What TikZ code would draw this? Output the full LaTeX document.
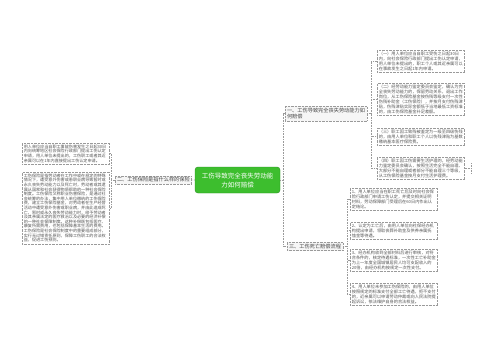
\documentclass[tikz,border=0pt]{standalone}
\usepackage{fontspec}
\setmainfont{Noto Sans CJK SC}
\definecolor{mgreen}{HTML}{3DBE2E}
\definecolor{dgreen}{HTML}{2A8F22}
\definecolor{lgray}{HTML}{9A9A9A}
\definecolor{tgray}{HTML}{555555}
\tikzset{
  leaf/.style={draw=lgray, densely dotted, fill=white, inner sep=1.6pt, anchor=north west,
    align=left, text width=84pt, font=\fontsize{4.2}{5}\selectfont, text=tgray},
  leafs/.style={leaf, font=\fontsize{4.1}{4.6}\selectfont},
  branch/.style={draw=lgray, densely dotted, fill=gray!7, inner sep=1.8pt, anchor=north west,
    align=left, font=\fontsize{5.2}{6.4}\selectfont, text=tgray!80!black},
  root/.style={draw=dgreen, fill=mgreen, rounded corners=3pt, text=white, align=center,
    minimum width=85pt, minimum height=26pt, inner sep=2pt, font=\fontsize{6.5}{9}\selectfont},
  conn/.style={draw=lgray, densely dotted, line width=0.6pt}
}
\begin{document}
\begin{tikzpicture}[x=1pt,y=-1pt]
\useasboundingbox (0,0) rectangle (500,360);
\fill[white] (0,0) rectangle (500,360);
% root
\node[root] (c) at (237.5,180) {工伤导致完全丧失劳动能\\力如何赔偿};
% branches
\node[branch, text width=78pt] (b1) at (285,106) {一、工伤导致完全丧失劳动能力如\\何赔偿};
\node[branch] (b3) at (287,242) {三、工伤死亡赔偿流程};
\node[branch] (b2) at (115,175.5) {二、工伤保险是指什么样的保险};
% right leaves, branch 1
\node[leaf] (l1) at (377,50) {（一）用人单位应当自职工受伤之日起30日\\内，向社会保险行政部门提出工伤认定申请，\\用人单位未提出的，职工个人或其近亲属可以\\在事故发生之日起1年内申请。};
\node[leaf] (l2) at (377,83) {（二）经劳动能力鉴定委员会鉴定，确认为完\\全丧失劳动能力的，保留劳动关系，退出工作\\岗位，从工伤保险基金按伤残等级支付一次性\\伤残补助金（工伤保险），并按月支付伤残津\\贴，伤残津贴实际金额低于当地最低工资标准\\的，由工伤保险基金补足差额。};
\node[leaf] (l3) at (377,128) {（三）职工因工致残被鉴定为一级至四级伤残\\的，由用人单位和职工个人以伤残津贴为基数\\缴纳基本医疗保险费。};
\node[leaf] (l4) at (377,157) {（四）职工因工伤需要生活护理的，经劳动能\\力鉴定委员会确认，按照生活完全不能自理、\\大部分不能自理或者部分不能自理三个等级，\\从工伤保险基金按月支付生活护理费。};
% right leaves, branch 3
\node[leaf] (m1) at (350,188) {1、用人单位应当在职工死亡后及时向社会保\\险行政部门申请工伤认定，并提交相关证明\\材料，劳动保障部门受理后在60日内作出认\\定结论。};
\node[leaf] (m2) at (350,222) {2、认定为工亡后，由用人单位向社保经办机\\构提出申请，领取丧葬补助金及供养亲属抚\\恤金等待遇。};
\node[leaf] (m3) at (350,249) {3、经办机构收到全部材料后进行审核，对符\\合条件的，核定待遇标准，一次性工亡补助金\\为上一年度全国城镇居民人均可支配收入的\\20倍，由经办机构按规定一次性支付。};
\node[leaf] (m4) at (350,283) {4、用人单位未参加工伤保险的，由用人单位\\按照规定的标准支付全部工亡待遇，拒不支付\\的，近亲属可以申请劳动仲裁或向人民法院提\\起诉讼，依法维护自身的合法权益。};
% left leaves
\node[leafs] (p1) at (22,143) {用人单位应当自职工事故伤害发生之日起30日\\内向统筹地区社会保险行政部门提出工伤认定\\申请，用人单位未提出的，工伤职工或者其近\\亲属可以在1年内直接提出工伤认定申请。};
\node[leafs] (p2) at (22,172) {工伤保险是指劳动者在工作中或在规定的特殊\\情况下，遭受意外伤害或患职业病导致暂时或\\永久丧失劳动能力以及死亡时，劳动者或其遗\\属从国家和社会获得物质帮助的一种社会保险\\制度。工伤保险又称职业伤害保险，是通过社\\会统筹的办法，集中用人单位缴纳的工伤保险\\费，建立工伤保险基金，对劳动者在生产经营\\活动中遭受意外伤害或职业病，并由此造成死\\亡、暂时或永久丧失劳动能力时，给予劳动者\\及其亲属法定的医疗救治以及必要的经济补偿\\的一种社会保障制度。这种补偿既包括医疗、\\康复所需费用，也包括保障基本生活的费用。\\工伤保险是社会保险制度中的重要组成部分，\\实行无过错责任原则，保障工伤职工的合法权\\益，促进工伤预防。};
% connectors
\coordinate (j1) at (283,180);
\draw[conn] (c.east) -- (j1) |- (b1.west);
\draw[conn] (j1) |- (b3.west);
\draw[conn] (c.west) -- (b2.east);
\draw[conn] (b1.east) -- ++(4,0) coordinate (j2);
\foreach \n in {l1,l2,l3,l4} \draw[conn] (j2) |- (\n.west);
\draw[conn] (b3.east) -- ++(4,0) coordinate (j3);
\foreach \n in {m1,m2,m3,m4} \draw[conn] (j3) |- (\n.west);
\draw[conn] (b2.west) -- ++(-4,0) coordinate (j4);
\foreach \n in {p1,p2} \draw[conn] (j4) |- (\n.east);
\draw[conn] (l4.east) -- ++(7,0) coordinate (k);
\draw[conn] (k) ++(0,-5) -- ++(0,10);
\end{tikzpicture}
\end{document}
